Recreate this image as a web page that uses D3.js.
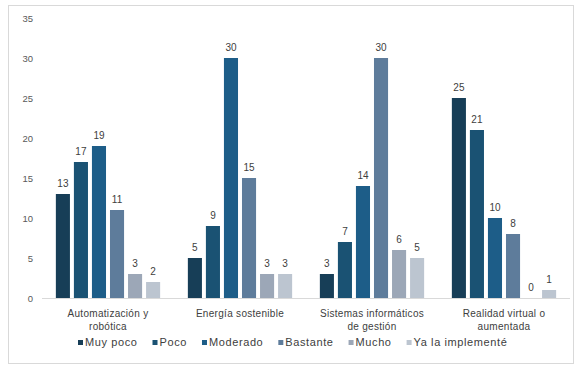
<!DOCTYPE html>
<html>
<head>
<meta charset="utf-8">
<script src="https://cdn.jsdelivr.net/npm/d3@7"></script>
<style>
  body { margin: 0; background: #fff; }
  text { font-family: "Liberation Sans", Arial, sans-serif; }
</style>
</head>
<body>
<div id="chart"></div>
<script>
var categories = [["Automatización y", "robótica"], ["Energía sostenible"], ["Sistemas informáticos", "de gestión"], ["Realidad virtual o", "aumentada"]];
var seriesNames = ["Muy poco", "Poco", "Moderado", "Bastante", "Mucho", "Ya la implementé"];
var muyPoco = [13, 5, 3, 25];
var poco = [17, 9, 7, 21];
var moderado = [19, 30, 14, 10];
var bastante = [11, 15, 30, 8];
var mucho = [3, 3, 6, 0];
var yaImpl = [2, 3, 5, 1];
var yTicks = [0, 5, 10, 15, 20, 25, 30, 35];

var colors = ["#173e57", "#1a5273", "#1d5d88", "#5e7c9b", "#9ca7b7", "#bcc5d0"];
var seriesValues = [muyPoco, poco, moderado, bastante, mucho, yaImpl];

var data = categories.map(function(c, i) {
  return { cat: c.join(" "), lines: c, values: seriesValues.map(function(s) { return s[i]; }) };
});

var width = 581, height = 369;
var svg = d3.select("#chart").append("svg")
  .attr("width", width).attr("height", height);

// frame
svg.append("rect")
  .attr("x", 8.5).attr("y", 5.5)
  .attr("width", 565).attr("height", 358)
  .attr("fill", "#fff").attr("stroke", "#d9d9d9");

var x0 = d3.scaleBand()
  .domain(data.map(function(d) { return d.cat; }))
  .range([42, 570])
  .paddingInner(0.21)
  .paddingOuter(0.105);

var x1 = d3.scaleBand()
  .domain(d3.range(seriesNames.length))
  .range([0, x0.bandwidth()])
  .paddingInner(0.22);

var y = d3.scaleLinear().domain([0, 35]).range([298, 18]);

var yAxis = d3.axisLeft(y).tickValues(yTicks).tickSize(0).tickPadding(0);
svg.append("g")
  .attr("transform", "translate(33,0)")
  .call(yAxis)
  .call(function(g) {
    g.select(".domain").remove();
    g.selectAll("text").attr("fill", "#595959").style("font-size", "9.5px");
  });

// baseline
svg.append("line")
  .attr("x1", 42).attr("x2", 570)
  .attr("y1", y(0) + 0.5).attr("y2", y(0) + 0.5)
  .attr("stroke", "#d9d9d9");

var groups = svg.append("g").selectAll("g")
  .data(data).enter().append("g")
  .attr("transform", function(d) { return "translate(" + x0(d.cat) + ",0)"; });

groups.selectAll("rect")
  .data(function(d) { return d.values; })
  .enter().append("rect")
  .attr("x", function(d, i) { return x1(i); })
  .attr("y", function(d) { return y(d); })
  .attr("width", x1.bandwidth())
  .attr("height", function(d) { return y(0) - y(d); })
  .attr("fill", function(d, i) { return colors[i]; });

groups.selectAll("text.val")
  .data(function(d) { return d.values; })
  .enter().append("text")
  .attr("class", "val")
  .attr("x", function(d, i) { return x1(i) + x1.bandwidth() / 2; })
  .attr("y", function(d) { return y(d) - 7; })
  .attr("text-anchor", "middle")
  .attr("fill", "#404040")
  .style("font-size", "10px")
  .text(function(d) { return d; });

// category labels
groups.each(function(d) {
  var g = d3.select(this);
  d.lines.forEach(function(line, k) {
    g.append("text")
      .attr("x", x0.bandwidth() / 2)
      .attr("y", 317 + k * 13)
      .attr("text-anchor", "middle")
      .attr("fill", "#404040")
      .style("font-size", "10px")
      .style("letter-spacing", "0.3px")
      .text(line);
  });
});

// legend
var legend = svg.append("g").attr("transform", "translate(0,346)");
var lx = 78;
seriesNames.forEach(function(name, i) {
  var item = legend.append("g").attr("transform", "translate(" + lx + ",0)");
  item.append("rect")
    .attr("x", 0).attr("y", -6)
    .attr("width", 5).attr("height", 5)
    .attr("fill", colors[i]);
  var t = item.append("text")
    .attr("x", 7).attr("y", 0)
    .attr("fill", "#404040")
    .style("font-size", "11px")
    .style("letter-spacing", "0.6px")
    .text(name);
  lx += 7 + t.node().getComputedTextLength() + 15;
});
</script>
</body>
</html>
